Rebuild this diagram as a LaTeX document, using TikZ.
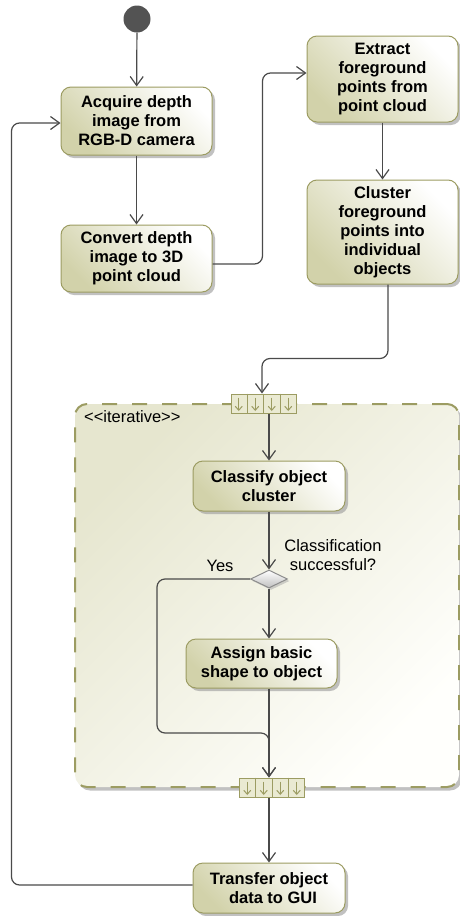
\documentclass[tikz,border=0pt]{standalone}
\usepackage{fontspec}
\setmainfont{Liberation Sans}
\usetikzlibrary{arrows.meta,shapes.geometric,shadows,calc}

\definecolor{linegray}{HTML}{4A4A4A}
\definecolor{edgeolive}{HTML}{9C9C62}
\definecolor{boxdark}{HTML}{D2D2AA}
\definecolor{regiondark}{HTML}{E6E6CF}
\definecolor{regionlight}{HTML}{FFFFFC}
\definecolor{pinfill}{HTML}{EAEAD2}

% cell dividers and small arrows inside an expansion pin
\newcommand\pincells[1]{%
  \foreach \k [evaluate=\k as \f using \k/4] in {1,2,3}
    \draw[edgeolive, line width=0.9pt]
      ($(#1.north west)!\f!(#1.north east)$) -- ($(#1.south west)!\f!(#1.south east)$);
  \foreach \k [evaluate=\k as \f using (\k+0.5)/4] in {0,...,3}
    \draw[edgeolive, line width=1pt, -{Straight Barb[length=4pt,width=7pt,line width=1pt]}]
      ($(#1.north west)!\f!(#1.north east)+(0,4)$) -- ($(#1.south west)!\f!(#1.south east)+(0,-2.5)$);
}

\begin{document}
\begin{tikzpicture}[x=1pt, y=-1pt,
  boxfont/.style={font=\bfseries\fontsize{16.5}{19}\selectfont},
  plainfont/.style={font=\fontsize{16.5}{18.5}\selectfont},
  action/.style={rectangle, rounded corners=10pt, draw=edgeolive, line width=1pt,
    left color=boxdark, right color=white, shading angle=135,
    drop shadow={shadow xshift=3pt, shadow yshift=-3pt, fill=black!40, opacity=0.6},
    boxfont, align=center, inner sep=0pt, text=black},
  region/.style={rectangle, rounded corners=12pt, draw=edgeolive, line width=2pt,
    dash pattern=on 15pt off 15pt, left color=regiondark, right color=regionlight,
    shading angle=45,
    drop shadow={shadow xshift=3pt, shadow yshift=-3.5pt, fill=black!40, opacity=0.6},
    inner sep=0pt},
  pinbox/.style={rectangle, draw=edgeolive, line width=1pt, fill=pinfill,
    minimum width=65pt, minimum height=19pt, inner sep=0pt},
  flow/.style={draw=linegray, line width=1.2pt, rounded corners=8pt,
    -{Straight Barb[length=9pt,width=13pt,line width=1.2pt]}}]

\useasboundingbox (0,0) rectangle (460,916);
\fill[white] (0,0) rectangle (460,916);

% iterative expansion region
\node[region, minimum width=384pt, minimum height=383pt] (loop) at (267,595.5) {};
\node[plainfont, anchor=west, inner sep=0pt] (stereo) at (84,417) {<{}<iterative>{}>};

% initial node
\node[circle, fill=linegray!95, minimum size=27pt, inner sep=0pt] (init) at (137,19) {};

% actions
\node[action, minimum width=151pt, minimum height=68pt] (acq) at (136.5,121)
  {Acquire depth\\image from\\RGB-D camera};
\node[action, minimum width=151pt, minimum height=67pt] (conv) at (136.5,258.5)
  {Convert depth\\image to 3D\\point cloud};
\node[action, minimum width=151pt, minimum height=86pt] (extr) at (382.5,79)
  {Extract\\foreground\\points from\\point cloud};
\node[action, minimum width=151pt, minimum height=104pt] (clus) at (382.5,232)
  {Cluster\\foreground\\points into\\individual\\objects};
\node[action, minimum width=152pt, minimum height=50pt] (cls) at (269,486)
  {Classify object\\cluster};
\node[action, minimum width=151pt, minimum height=49pt] (asg) at (261.5,663.5)
  {Assign basic\\shape to object};
\node[action, minimum width=152pt, minimum height=50pt] (trans) at (269,888)
  {Transfer object\\\hspace*{8pt}data to GUI};

% decision
\node[diamond, aspect=2, draw=black!45, line width=1pt, top color=white, bottom color=black!25,
  minimum width=37pt, minimum height=18pt, inner sep=0pt,
  drop shadow={shadow xshift=2pt, shadow yshift=-2pt, fill=black!35, opacity=0.5}] (dec) at (269,579) {};
\node[plainfont, align=center, inner sep=0pt] (declabel) at (333,555) {Classification\\successful?};
\node[plainfont, inner sep=0pt] (yes) at (220,566) {Yes};

% expansion pins
\node[pinbox] (pinin) at (263.5,403.5) {};
\pincells{pinin}
\node[pinbox] (pinout) at (272,787.5) {};
\pincells{pinout}

% control flow
\draw[flow] (init) -- (acq);
\draw[flow] (acq) -- (conv);
\draw[flow] ([yshift=-5.5pt]conv.east) -- ++(50,0) |- ([yshift=6pt]extr.west);
\draw[flow] (extr) -- (clus);
\draw[flow] ([xshift=5.5pt]clus.south) -- ++(0,74) -| ([xshift=-1.5pt]pinin.north);
\draw[flow] ([xshift=5.5pt]pinin.south) -- (cls.north);
\draw[flow] (cls) -- (dec);
\draw[flow] (dec.south) -- (dec.south |- asg.north);
\draw[flow] (dec.west) -- ++(-93,0) -- ++(0,154) -| ([xshift=-3pt]pinout.north);
\draw[flow] ([xshift=7.5pt]asg.south) -- ([xshift=-3pt]pinout.north);
\draw[flow] ([xshift=-3pt]pinout.south) -- (trans.north);
\draw[flow] ([yshift=3pt]trans.west) -- ++(-181,0) |- ([yshift=-2pt]acq.west);

\end{tikzpicture}
\end{document}
